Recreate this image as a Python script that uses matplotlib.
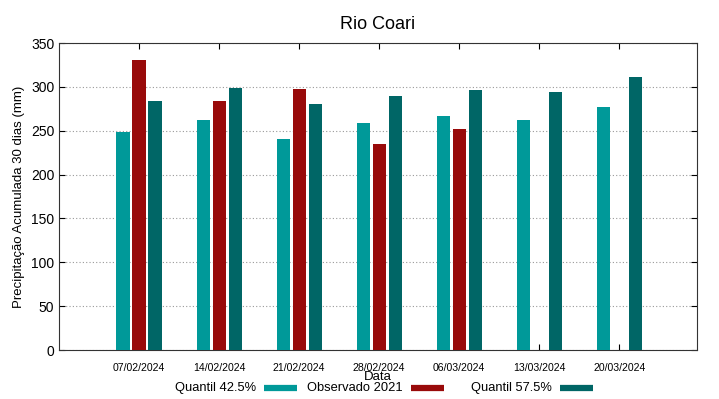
import numpy as np
import matplotlib.pyplot as plt
from matplotlib.lines import Line2D

plt.rcParams['font.family'] = ['Liberation Sans', 'DejaVu Sans']

datas = ['07/02/2024', '14/02/2024', '21/02/2024', '28/02/2024',
         '06/03/2024', '13/03/2024', '20/03/2024']
q425 = [249, 262, 241, 259, 267, 262, 277]
obs2021 = [331, 284, 298, 235, 252, np.nan, np.nan]
q575 = [284, 299, 280, 290, 296, 294, 311]

cores = ['#009999', '#990a0a', '#006666']
nomes = ['Quantil 42.5%', 'Observado 2021', 'Quantil 57.5%']

W, H = 719, 399
fig = plt.figure(figsize=(W / 100, H / 100), dpi=100)
ax = fig.add_axes([0.0821, 0.1228, 0.8873, 0.7694])

x = np.arange(len(datas))
w = 0.165
for k, serie in enumerate([q425, obs2021, q575]):
    ax.bar(x + (k - 1) * 0.2, serie, width=w, color=cores[k], zorder=3)

ax.set_xlim(-1, 6.97)
ax.set_ylim(0, 350)
ax.set_yticks(range(0, 351, 50))
ax.set_xticks(x)
ax.set_xticklabels(datas, fontsize=7.6)
ax.tick_params(axis='y', labelsize=10, direction='in', right=True, length=4)
ax.tick_params(axis='x', direction='in', top=True, length=4, pad=9)
ax.grid(axis='y', linestyle=(0, (1, 2)), color='#999999', linewidth=0.8, zorder=0)
for s in ax.spines.values():
    s.set_color('#333333')

ax.set_title('Rio Coari', fontsize=13, pad=10)
ax.set_ylabel('Precipitação Acumulada 30 dias (mm)', fontsize=9.5)
fig.text(378 / W, 1 - 377 / H, 'Data', ha='center', va='center', fontsize=9.5)

# legenda manual, estilo gnuplot (texto a esquerda da amostra)
fim_txt = [256, 403, 552]
yleg = 1 - 388 / H
for k in range(3):
    fig.text(fim_txt[k] / W, yleg, nomes[k], ha='right', va='center', fontsize=9.3)
    x0 = (fim_txt[k] + 8) / W
    fig.add_artist(Line2D([x0, x0 + 33 / W], [yleg, yleg], color=cores[k],
                          linewidth=4.5, solid_capstyle='butt',
                          transform=fig.transFigure))

fig.savefig('out.png', dpi=100)
